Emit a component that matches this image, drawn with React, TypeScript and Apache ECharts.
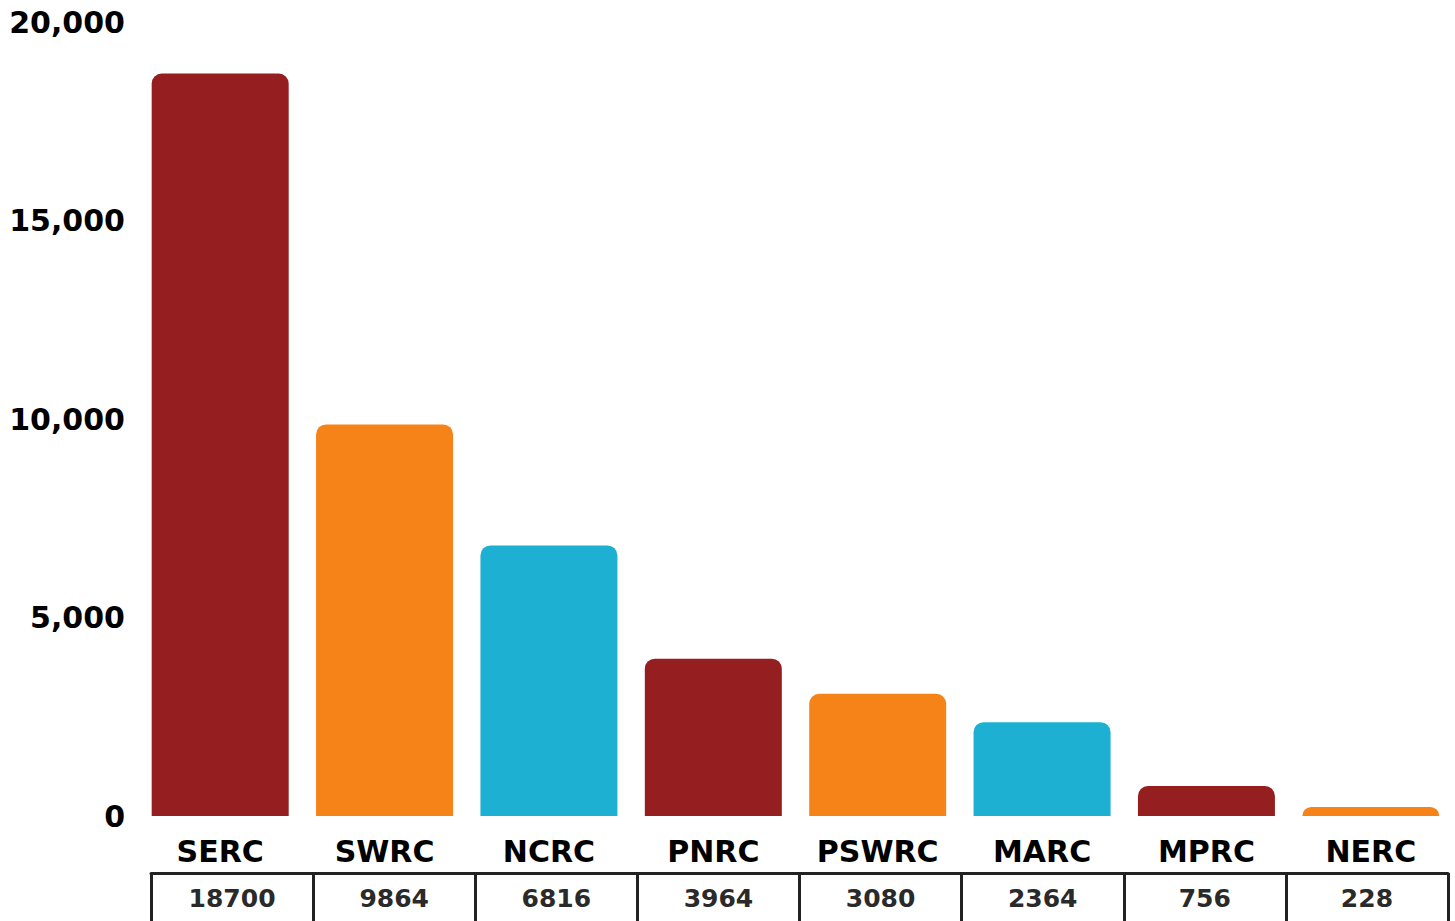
import React, { useEffect, useRef } from "react";
import * as echarts from "echarts";

const categories = ["SERC", "SWRC", "NCRC", "PNRC", "PSWRC", "MARC", "MPRC", "NERC"];
const values = [18700, 9864, 6816, 3964, 3080, 2364, 756, 228];
const barColors = ["#951f20", "#f58318", "#1db0d3", "#951f20", "#f58318", "#1db0d3", "#951f20", "#f58318"];
const yTicks = [0, 5000, 10000, 15000, 20000];

const FONT = "DejaVu Sans";

export default function App() {
  const ref = useRef<HTMLDivElement>(null);
  useEffect(() => {
    if (!ref.current) return;
    const chart = echarts.init(ref.current, null, { renderer: "svg" });
    chart.setOption({
      animation: false,
      backgroundColor: "#ffffff",
      grid: [
        { left: 138, width: 1315, top: 22, bottom: 921 - 816 },
        { left: 151, width: 1297, top: 873, height: 60 },
      ],
      xAxis: [
        {
          type: "category",
          gridIndex: 0,
          data: categories,
          axisLine: { show: false },
          axisTick: { show: false },
          axisLabel: {
            margin: 20,
            color: "#000",
            fontFamily: FONT,
            fontWeight: "bold",
            fontSize: 30,
          },
        },
        {
          type: "category",
          gridIndex: 1,
          position: "top",
          data: values.map((v) => String(v)),
          axisLine: { show: true, onZero: false, lineStyle: { color: "#222", width: 3 } },
          axisTick: { show: true, inside: true, length: 70, lineStyle: { color: "#222", width: 3 } },
          axisLabel: {
            inside: true,
            margin: 13,
            color: "#2a2a2a",
            fontFamily: FONT,
            fontWeight: "bold",
            fontSize: 25,
          },
        },
      ],
      yAxis: [
        {
          type: "value",
          gridIndex: 0,
          min: 0,
          max: yTicks[yTicks.length - 1],
          interval: 5000,
          splitLine: { show: false },
          axisLine: { show: false },
          axisTick: { show: false },
          axisLabel: {
            margin: 13,
            color: "#000",
            fontFamily: FONT,
            fontWeight: "bold",
            fontSize: 30,
            formatter: (v: number) => v.toLocaleString("en-US"),
          },
        },
        { type: "value", gridIndex: 1, show: false, min: 0, max: 1 },
      ],
      series: [
        {
          type: "bar",
          xAxisIndex: 0,
          yAxisIndex: 0,
          barWidth: 137,
          data: values.map((v, i) => ({
            value: v,
            itemStyle: { color: barColors[i], borderRadius: [10, 10, 0, 0] },
          })),
        },
      ],
    });
    return () => chart.dispose();
  }, []);
  return (
    <div
      ref={ref}
      style={{ position: "fixed", left: 0, top: 0, width: 1455, height: 921 }}
    />
  );
}
